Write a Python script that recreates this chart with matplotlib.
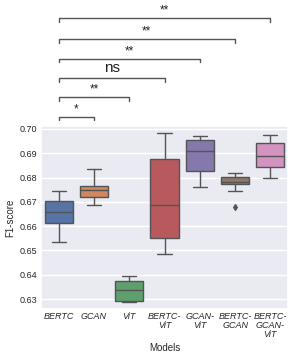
import numpy as np
import matplotlib
matplotlib.use("Agg")
import matplotlib.pyplot as plt
import seaborn as sns

models = ['BERTC', 'GCAN', 'ViT', 'BERTC-\nViT', 'GCAN-\nViT', 'BERTC-\nGCAN', 'BERTC-\nGCAN-\nViT']
# box summary: low whisker, q1, median, q3, high whisker
whislo = [0.6535, 0.6686, 0.6288, 0.6487, 0.6761, 0.6745, 0.6798]
q1 = [0.6614, 0.6719, 0.6290, 0.6553, 0.6828, 0.6774, 0.6844]
med = [0.6657, 0.6748, 0.6336, 0.6687, 0.6911, 0.6783, 0.6888]
q3 = [0.6705, 0.6767, 0.6375, 0.6875, 0.6953, 0.6802, 0.6940]
whishi = [0.6745, 0.6835, 0.6396, 0.6982, 0.6971, 0.6819, 0.6973]
fliers = [[], [], [], [], [], [0.6680], []]

# significance brackets: pairs against BERTC
pairs = [(0, 1), (0, 2), (0, 3), (0, 4), (0, 5), (0, 6)]
marks = ['*', '**', 'ns', '**', '**', '**']
bracket_y = [0.7051, 0.7131, 0.7210, 0.7289, 0.7370, 0.7456]

sns.set_theme(style='darkgrid')
plt.rcParams['font.family'] = ['Liberation Sans', 'DejaVu Sans']

palette = [sns.desaturate(c, 0.8) for c in sns.color_palette('deep', 7)]
line_col = '#545454'

fig = plt.figure(figsize=(2.94, 3.61), dpi=100)
ax = fig.add_axes([0.1395, 0.144, 0.8401, 0.507])

stats = []
for i in range(len(models)):
    stats.append(dict(whislo=whislo[i], q1=q1[i], med=med[i], q3=q3[i],
                      whishi=whishi[i], fliers=fliers[i]))

bp = ax.bxp(stats, positions=np.arange(len(models)), widths=0.8,
            patch_artist=True, manage_ticks=False,
            boxprops=dict(edgecolor=line_col, linewidth=1.0),
            medianprops=dict(color=line_col, linewidth=1.0),
            whiskerprops=dict(color=line_col, linewidth=1.0),
            capprops=dict(color=line_col, linewidth=1.0),
            flierprops=dict(marker='d', markerfacecolor=line_col,
                            markeredgecolor=line_col, markersize=3))
for patch, col in zip(bp['boxes'], palette):
    patch.set_facecolor(col)

ax.set_xlim(-0.5, len(models) - 0.5)
ax.set_ylim(0.6259, 0.7012)
ax.set_xticks(np.arange(len(models)))
ax.set_xticklabels(models, fontsize=6.5, style='italic', linespacing=0.95)
ax.set_yticks([0.63, 0.64, 0.65, 0.66, 0.67, 0.68, 0.69, 0.70])
ax.set_yticklabels(['%.2f' % v for v in ax.get_yticks()], fontsize=6.5)
ax.xaxis.grid(False)
ax.tick_params(axis='both', length=0, pad=2.5)
ax.set_xlabel('Models', fontsize=7, labelpad=3)
ax.set_ylabel('F1-score', fontsize=7, labelpad=3)

drop = 0.0015
for (a, b), m, y in zip(pairs, marks, bracket_y):
    ax.plot([a, a, b, b], [y - drop, y, y, y - drop], color=line_col,
            lw=1.0, clip_on=False)
    if m == 'ns':
        ax.text((a + b) / 2, y + 0.0012, m, ha='center', va='bottom',
                fontsize=11, color='#222222', clip_on=False)
    else:
        ax.text((a + b) / 2, y + 0.0005, m, ha='center', va='bottom',
                fontsize=8.5, color='#222222', clip_on=False)

fig.savefig('out.png', dpi=100)
